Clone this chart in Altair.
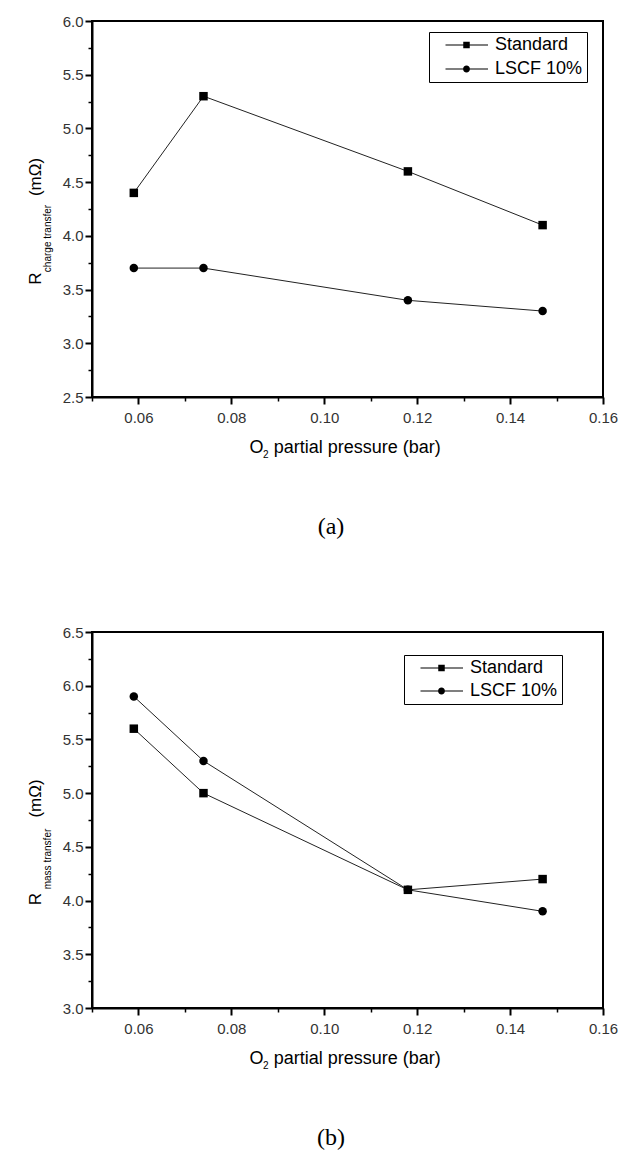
import altair as alt
import pandas as pd

# ---------------- data ----------------
o2_pressure = [0.059, 0.074, 0.118, 0.147]
series_names = ["Standard", "LSCF 10%"]
charge_standard = [4.4, 5.3, 4.6, 4.1]
charge_lscf = [3.7, 3.7, 3.4, 3.3]
mass_standard = [5.6, 5.0, 4.1, 4.2]
mass_lscf = [5.9, 5.3, 4.1, 3.9]

x_domain = [0.05, 0.16]
x_major = [0.06, 0.08, 0.10, 0.12, 0.14, 0.16]
x_minor = [0.05, 0.07, 0.09, 0.11, 0.13, 0.15]
ya_domain = [2.5, 6.0]
ya_major = [2.5, 3.0, 3.5, 4.0, 4.5, 5.0, 5.5, 6.0]
ya_minor = [2.75, 3.25, 3.75, 4.25, 4.75, 5.25, 5.75]
yb_domain = [3.0, 6.5]
yb_major = [3.0, 3.5, 4.0, 4.5, 5.0, 5.5, 6.0, 6.5]
yb_minor = [3.25, 3.75, 4.25, 4.75, 5.25, 5.75, 6.25]

FONT = "Liberation Sans"
SERIF = "Liberation Serif"
W, H = 511, 376

# legend glyphs "—■—" and "—●—" (filled shapes; unit = sqrt(symbolSize)/2 px)
SQ_PATH = ("M0.7,-0.1H4.25V0.1H0.7Z M5.55,-0.1H9.2V0.1H5.55Z "
           "M4.25,-0.65H5.55V0.65H4.25Z")
CI_PATH = ("M0.7,-0.1H4.2V0.1H0.7Z M5.6,-0.1H9.2V0.1H5.6Z "
           "M4.2,0A0.7,0.7,0,1,0,5.6,0A0.7,0.7,0,1,0,4.2,0Z")


def make_df(std, lscf):
    rows = []
    for name, vals in zip(series_names, [std, lscf]):
        for p, v in zip(o2_pressure, vals):
            rows.append({"p": p, "r": v, "series": name})
    return pd.DataFrame(rows)


def txt(s, x, y, size, angle=None, align="center", baseline="middle", font=FONT):
    kw = dict(text=s, fontSize=size, font=font, align=align, baseline=baseline, color="black")
    if angle is not None:
        kw["angle"] = angle
    return alt.Chart(alt.Data(values=[{}])).mark_text(**kw).encode(
        x=alt.value(x), y=alt.value(y)
    )


def panel(df, y_domain, y_major, y_minor, sub_text, caption, legend_xy, row_pad, ypos):
    xscale = alt.Scale(domain=x_domain, nice=False, zero=False)
    yscale = alt.Scale(domain=y_domain, nice=False, zero=False)
    major_x = alt.Axis(values=x_major, format=".2f", title=None, orient="bottom",
                       tickSize=7, tickWidth=2, tickColor="black", domainWidth=2,
                       domainColor="black", labelFont=FONT, labelFontSize=15,
                       labelColor="#333", labelPadding=6, grid=False,
                       labelFlush=False, labelOverlap=False)
    major_y = alt.Axis(values=y_major, format=".1f", title=None, orient="left",
                       tickSize=7, tickWidth=2, tickColor="black", domainWidth=2,
                       domainColor="black", labelFont=FONT, labelFontSize=15,
                       labelColor="#333", labelPadding=2, grid=False,
                       labelOverlap=False)
    minor_x = alt.Axis(values=x_minor, title=None, orient="bottom", labels=False,
                       domain=False, grid=False, tickSize=4, tickWidth=1.5,
                       tickColor="black")
    minor_y = alt.Axis(values=y_minor, title=None, orient="left", labels=False,
                       domain=False, grid=False, tickSize=4, tickWidth=1.5,
                       tickColor="black")
    base = alt.Chart(df)
    lines = base.mark_line(color="#222", strokeWidth=1).encode(
        x=alt.X("p:Q", scale=xscale, axis=major_x),
        y=alt.Y("r:Q", scale=yscale, axis=major_y),
        detail="series:N",
    )
    minor = base.mark_point(opacity=0).encode(
        x=alt.X("p:Q", scale=xscale, axis=minor_x),
        y=alt.Y("r:Q", scale=yscale, axis=minor_y),
    )
    points = base.mark_point(filled=True, opacity=1, color="black", size=72).encode(
        x=alt.X("p:Q", scale=xscale, axis=None),
        y=alt.Y("r:Q", scale=yscale, axis=None),
        shape=alt.Shape("series:N",
                        scale=alt.Scale(domain=series_names, range=["square", "circle"]),
                        legend=None),
    )
    legend = alt.Legend(
        title=None, orient="none", legendX=legend_xy[0], legendY=legend_xy[1],
        direction="vertical", strokeColor="black", fillColor="white", padding=4,
        labelFont=FONT, labelFontSize=18, labelColor="black", labelOffset=44,
        labelLimit=300, labelExpr="datum.label + '  '",
        symbolSize=100, symbolStrokeWidth=1, symbolFillColor="black",
        symbolOpacity=1, rowPadding=row_pad,
    )
    legend_layer = base.transform_filter("false").mark_point(
        filled=True, opacity=1, fill="black"
    ).encode(
        x=alt.X("p:Q", scale=xscale, axis=None),
        y=alt.Y("r:Q", scale=yscale, axis=None),
        shape=alt.Shape("series:N",
                        scale=alt.Scale(domain=series_names, range=[SQ_PATH, CI_PATH]),
                        legend=legend),
    )
    texts = [
        txt("R", -51, ypos[0], 17, angle=270, baseline="alphabetic"),
        txt(sub_text, -41, ypos[1], 10, angle=270, baseline="alphabetic"),
        txt("(mΩ)", -51, ypos[2], 17, angle=270, baseline="alphabetic"),
        txt("O", 157.5, 432, 18, align="left", baseline="alphabetic"),
        txt("2", 171, 437, 10, align="left", baseline="alphabetic"),
        txt("partial pressure (bar)", 181.7, 432, 18, align="left", baseline="alphabetic"),
        txt(caption, 239, 506, 24, font=SERIF),
    ]
    return alt.layer(lines, minor, points, legend_layer, *texts).resolve_axis(
        x="independent", y="independent"
    ).resolve_scale(shape="independent").properties(width=W, height=H)


top = panel(make_df(charge_standard, charge_lscf), ya_domain, ya_major, ya_minor,
            "charge transfer", "(a)", (337, 11), 6, (257.5, 217.5, 156))
bottom = panel(make_df(mass_standard, mass_lscf), yb_domain, yb_major, yb_minor,
               "mass transfer", "(b)", (312, 23), 5, (267, 227, 166.5))

chart = alt.vconcat(top, bottom, spacing=84).configure_view(
    stroke="black", strokeWidth=2
).properties(padding={"left": 18, "top": 5, "right": 5, "bottom": 5}, background="white")

chart.save("out.html", embed_options={"renderer": "svg", "actions": False})
